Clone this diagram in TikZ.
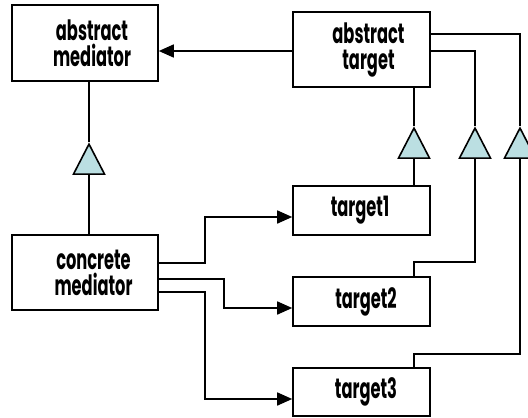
\documentclass[tikz,border=0pt]{standalone}
\usepackage{fontspec}
\setmainfont{Poppins}[FakeStretch=0.58]
\usetikzlibrary{arrows.meta,shapes.geometric}
\definecolor{trifill}{RGB}{187,223,226}
\begin{document}
\begin{tikzpicture}[x=1pt,y=-1pt,
  line width=1.6pt,
  box/.style={draw,rectangle,inner sep=0,minimum width=#1},
  box/.default=146,
  txt/.style={font=\fontsize{28}{26}\selectfont\bfseries,align=center,inner sep=0},
  gen/.style={draw,fill=trifill,isosceles triangle,shape border rotate=90,
    isosceles triangle stretches,minimum width=31,minimum height=30,
    inner sep=0,anchor=apex},
  arr/.style={-{Triangle[length=15pt,width=13pt]}},
  wire/.style={line join=miter}]
\useasboundingbox (0,0) rectangle (528,418);

% classes
\node[box=146,minimum height=76,label={[txt,xshift=7]center:{abstract\\mediator}}] (am) at (85,43) {};
\node[box=137,minimum height=75,label={[txt,xshift=7]center:{abstract\\target}}] (at) at (361.5,49.5) {};
\node[box=146,minimum height=75,label={[txt,xshift=8.5]center:{concrete\\mediator}}] (cm) at (85,272.5) {};
\node[box=137,minimum height=49,label={[txt,xshift=-1.5]center:{target1}}] (t1) at (361.5,210.5) {};
\node[box=137,minimum height=49,label={[txt,xshift=4.5]center:{target2}}] (t2) at (361.5,301.5) {};
\node[box=137,minimum height=48,label={[txt,xshift=4.5]center:{target3}}] (t3) at (361.5,392) {};

% generalisation triangles
\node[gen] (g0) at (89,142) {};
\node[gen] (g1) at (414,126) {};
\node[gen] (g2) at (475,126) {};
\node[gen] (g3) at (520,126) {};

% abstract target refers to abstract mediator
\draw[arr] ([yshift=-1.5]at.west) -- ([yshift=-1.5]at.west -| am.east);

% inheritance of the mediator
\draw (g0.apex |- am.south) -- (g0.apex);
\draw (g0.lower side) -- (g0.lower side |- cm.north);

% inheritance of the targets
\draw (g1.apex |- at.south) -- (g1.apex);
\draw (g1.lower side) -- (g1.lower side |- t1.north);
\draw[wire] ([yshift=-1.5]at.east) -| (g2.apex);
\coordinate (j2) at (414,262);
\draw[wire] (g2.lower side) |- (j2) -- (j2 |- t2.north);
\draw[wire] ([yshift=15.5]at.east) -| (g3.apex);
\coordinate (j3) at (414,354);
\draw[wire] (g3.lower side) |- (j3) -- (j3 |- t3.north);

% concrete mediator talks to the targets
\draw[arr,wire] ([yshift=9.5]cm.east) -- ++(46,0) |- ([yshift=-6.5]t1.west);
\draw[arr,wire] ([yshift=-6.5]cm.east) -- ++(65,0) |- ([yshift=-6.5]t2.west);
\draw[arr,wire] ([yshift=-19.5]cm.east) -- ++(46,0) |- ([yshift=-7]t3.west);
\end{tikzpicture}
\end{document}
